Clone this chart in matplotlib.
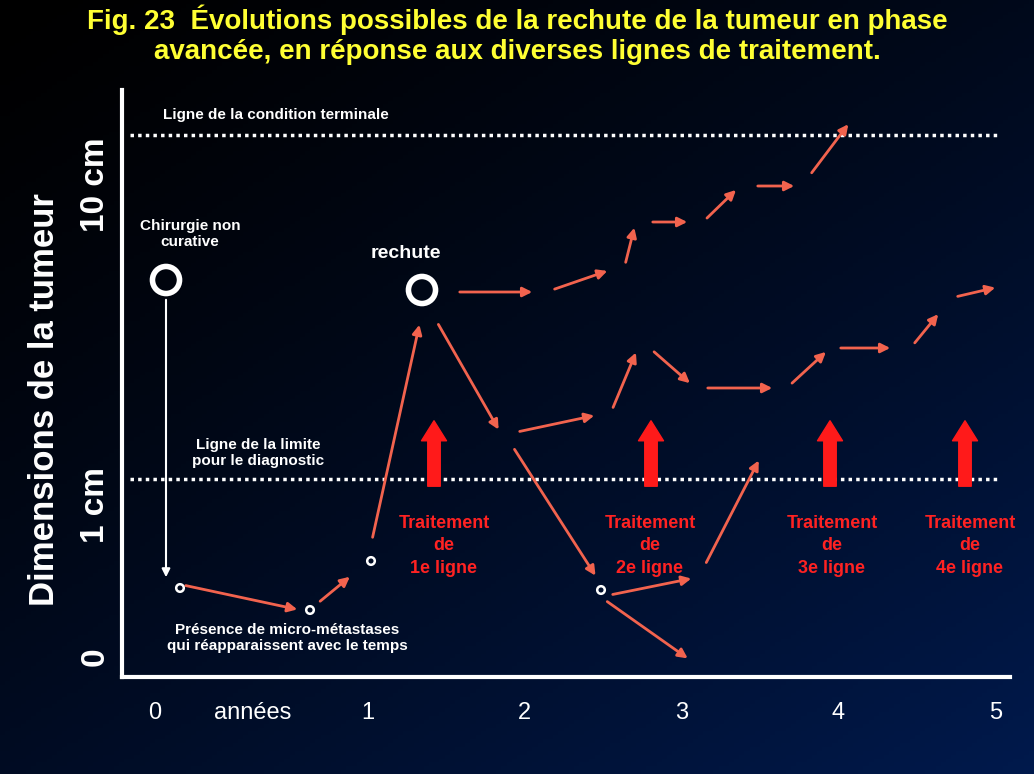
import numpy as np
import matplotlib.pyplot as plt

plt.rcParams['font.family'] = ['Liberation Sans', 'DejaVu Sans']

# figure drawn in a pixel-like coordinate frame (x right, y down)
year_labels = ['0', 'années', '1', '2', '3', '4', '5']
year_x = [155, 253, 368, 524, 682, 838, 996]

# salmon trend arrows: x0, y0, x1, y1
seg_x0 = [183, 318, 372, 437, 517, 612, 652, 705, 790, 838, 913, 955,
          457, 552, 625, 650, 705, 755, 810, 513, 610, 705, 605]
seg_y0 = [585, 603, 540, 322, 432, 410, 350, 388, 385, 348, 345, 297,
          292, 290, 265, 222, 220, 186, 175, 447, 595, 565, 600]
seg_x1 = [300, 352, 420, 500, 597, 637, 692, 775, 828, 893, 940, 998,
          535, 610, 635, 690, 738, 797, 850, 597, 694, 760, 690]
seg_y1 = [610, 575, 322, 432, 415, 350, 385, 388, 350, 348, 312, 287,
          292, 270, 225, 222, 188, 186, 122, 578, 578, 458, 660]

treat_x = [434, 651, 830, 965]
treat_lbl = ['1e ligne', '2e ligne', '3e ligne', '4e ligne']
treat_lbl_x = [444, 650, 832, 970]

big_cx = [166, 422]
big_cy = [280, 290]
small_cx = [180, 310, 371, 601]
small_cy = [588, 610, 561, 590]

fig = plt.figure(figsize=(10.34, 7.74), dpi=100)
ax = fig.add_axes([0, 0, 1, 1])
ax.set_xlim(0, 1034)
ax.set_ylim(774, 0)
ax.axis('off')

# background gradient black -> navy
gx, gy = np.meshgrid(np.linspace(0, 1, 200), np.linspace(0, 1, 200))
t = np.clip(0.55 * gy + 0.45 * gx, 0, 1) ** 1.3
img = np.zeros((200, 200, 3))
img[..., 1] = 0.10 * t
img[..., 2] = 0.30 * t
ax.imshow(img, extent=[0, 1034, 774, 0], aspect='auto', zorder=0)

ax.text(517, 20, "Fig. 23  Évolutions possibles de la rechute de la tumeur en phase",
        color='#ffff33', fontsize=20, fontweight='bold', ha='center', va='center')
ax.text(517, 52, "avancée, en réponse aux diverses lignes de traitement.",
        color='#ffff33', fontsize=20, fontweight='bold', ha='center', va='center')

# axes
ax.plot([122, 122], [90, 677], color='white', lw=3)
ax.plot([122, 1010], [677, 677], color='white', lw=3)
ax.plot([130, 1000], [135, 135], color='white', lw=2.5, ls=(0, (1, 1.2)))
ax.plot([130, 1000], [479, 479], color='white', lw=2.5, ls=(0, (1, 1.2)))

for lbl, x in zip(year_labels, year_x):
    ax.text(x, 713, lbl, color='white', fontsize=17, ha='center', va='center')
ax.text(95, 185, '10 cm', color='white', fontsize=24, fontweight='bold', rotation=90, ha='center', va='center')
ax.text(95, 505, '1 cm', color='white', fontsize=24, fontweight='bold', rotation=90, ha='center', va='center')
ax.text(95, 657, '0', color='white', fontsize=24, fontweight='bold', rotation=90, ha='center', va='center')
ax.text(45, 400, 'Dimensions de la tumeur', color='white', fontsize=25, fontweight='bold',
        rotation=90, ha='center', va='center')

small = dict(color='white', fontsize=11, fontweight='bold', ha='center', va='center')
ax.text(163, 115, 'Ligne de la condition terminale', **dict(small, ha='left'))
ax.text(258, 453, 'Ligne de la limite\npour le diagnostic', **small)
ax.text(190, 234, 'Chirurgie non\ncurative', **small)
ax.text(287, 638, 'Présence de micro-métastases\nqui réapparaissent avec le temps', **small)
ax.text(406, 253, 'rechute', color='white', fontsize=14, fontweight='bold', ha='center', va='center')

for x0, y0, x1, y1 in zip(seg_x0, seg_y0, seg_x1, seg_y1):
    ax.annotate('', xy=(x1, y1), xytext=(x0, y0),
                arrowprops=dict(arrowstyle='-|>', color='#f2634e', lw=2, mutation_scale=14))

ax.annotate('', xy=(166, 580), xytext=(166, 297),
            arrowprops=dict(arrowstyle='-|>', color='white', lw=1.5, mutation_scale=12))

for x, lx, l in zip(treat_x, treat_lbl_x, treat_lbl):
    ax.annotate('', xy=(x, 418), xytext=(x, 489),
                arrowprops=dict(arrowstyle='simple,head_width=1.0,head_length=0.8,tail_width=0.5',
                                color='#ff1a1a', mutation_scale=18))
    ax.text(lx, 546, 'Traitement\nde\n' + l, color='#ff2222', fontsize=13,
            fontweight='bold', ha='center', va='center', linespacing=1.4)

ax.scatter(big_cx, big_cy, s=380, facecolors='none', edgecolors='white', linewidths=4, zorder=5)
ax.scatter(small_cx, small_cy, s=30, facecolors='none', edgecolors='white', linewidths=1.8, zorder=5)

fig.savefig('out.png', dpi=100)
